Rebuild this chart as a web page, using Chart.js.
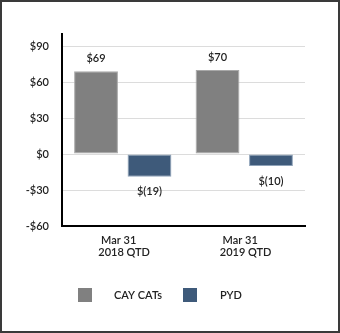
<!DOCTYPE html>
<html><head><meta charset="utf-8">
<script src="https://cdn.jsdelivr.net/npm/chart.js@4/dist/chart.umd.min.js"></script>
<style>html,body{margin:0;padding:0;background:#fff}#wrap{width:340px;height:333px;position:relative}</style>
</head><body><div id="wrap"><canvas id="c" width="340" height="333"></canvas></div>
<script>
const categories = [['Mar 31   ', ' 2018 QTD'], ['Mar 31   ', ' 2019 QTD']];
const seriesNames = ['CAY CATs', 'PYD'];
const cayCats = [69, 70];
const pyd = [-19, -10];
const yTicks = [-60, -30, 0, 30, 60, 90];

const FONT = 'Lato';
const TEXT = '#222';

function fmt(v){ return v < 0 ? '$(' + Math.abs(v) + ')' : '$' + v; }

const frame = {
  id: 'frame',
  beforeDraw(chart){
    const ctx = chart.ctx;
    ctx.save();
    ctx.fillStyle = '#fff';
    ctx.fillRect(0,0,chart.width,chart.height);
    ctx.restore();
  },
  afterDraw(chart){
    const ctx = chart.ctx;
    ctx.save();
    ctx.strokeStyle = '#3a3a3a';
    ctx.lineWidth = 2;
    ctx.strokeRect(1,1,chart.width-2,chart.height-2);
    // value labels
    ctx.font = '600 11px ' + FONT;
    ctx.fillStyle = TEXT;
    ctx.textAlign = 'center';
    ctx.textBaseline = 'middle';
    chart.data.datasets.forEach((ds, di) => {
      const meta = chart.getDatasetMeta(di);
      meta.data.forEach((bar, i) => {
        const v = ds.data[i];
        const y = v >= 0 ? bar.y - 13 : bar.y + 15;
        ctx.fillText(fmt(v), bar.x, y);
      });
    });
    // legend
    const items = [
      {box: 78, text: 114, color: chart.data.datasets[0].backgroundColor},
      {box: 183, text: 220, color: chart.data.datasets[1].backgroundColor}
    ];
    ctx.textAlign = 'left';
    items.forEach((it, i) => {
      ctx.fillStyle = it.color;
      ctx.fillRect(it.box, 288, 14, 14);
      ctx.fillStyle = TEXT;
      ctx.fillText(chart.data.datasets[i].label, it.text, 295.5);
    });
    ctx.restore();
  }
};

new Chart(document.getElementById('c'), {
  type: 'bar',
  data: {
    labels: categories,
    datasets: [
      {label: seriesNames[0], data: cayCats, backgroundColor: '#808080', borderColor: '#a8a8a8', borderWidth: 1, borderSkipped: false},
      {label: seriesNames[1], data: pyd, backgroundColor: '#3e5a7a', borderColor: '#8ea2b8', borderWidth: 1, borderSkipped: false}
    ]
  },
  options: {
    responsive: false,
    animation: false,
    events: [],
    layout: {padding: {top: 34, right: 35, bottom: 67, left: 0}},
    datasets: {bar: {categoryPercentage: 0.88, barPercentage: 0.82}},
    plugins: {legend: {display: false}, tooltip: {enabled: false}},
    scales: {
      x: {
        grid: {display: false, drawTicks: false},
        border: {display: true, color: '#000', width: 2},
        ticks: {color: TEXT, padding: 8, font: {family: FONT, size: 11, weight: '600', lineHeight: 1.1}, maxRotation: 0},
        afterFit(s){ s.height = 40; }
      },
      y: {
        min: -60, max: 100,
        afterBuildTicks(s){ s.ticks = yTicks.map(v => ({value: v})); },
        grid: {color: '#dcdcdc', lineWidth: 1, drawTicks: false},
        border: {display: true, color: '#000', width: 2},
        ticks: {color: TEXT, padding: 13, font: {family: FONT, size: 11, weight: '600'}, callback: v => (v < 0 ? '-$' + Math.abs(v) : '$' + v)},
        afterFit(s){ s.width = 62; }
      }
    }
  },
  plugins: [frame]
});
</script></body></html>
